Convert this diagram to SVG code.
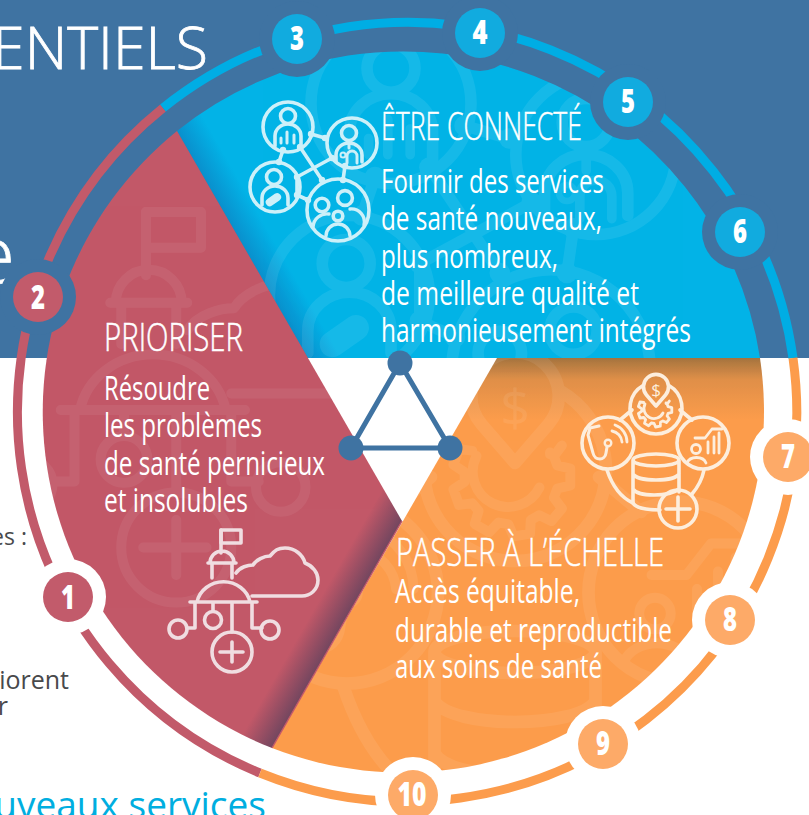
<svg xmlns="http://www.w3.org/2000/svg" xmlns:xlink="http://www.w3.org/1999/xlink" width="809" height="815" viewBox="0 0 809 815">
<style>
text{font-family:"Open Sans","Noto Sans","Liberation Sans",sans-serif}
.w{fill:#fff;font-size:33px}
.t{fill:#fff;font-size:39px;font-weight:300;stroke:#fff;stroke-width:.5px}
.b{fill:#fff;font-weight:300;stroke:#fff;stroke-width:.8px;text-anchor:end}
.n{fill:#fff;font-size:33px;font-weight:800;text-anchor:middle}
.g{fill:#48494b;text-anchor:end}
.ic{fill:none;stroke-width:3.6;stroke-linecap:round;stroke-linejoin:round}
.ring{fill:none;stroke-width:9}
.wm{stroke:#fff;color:#fff}
</style>
<defs>
<linearGradient id="gr" gradientUnits="userSpaceOnUse" x1="337" y1="634" x2="309" y2="618"><stop offset="0" stop-color="#73465f"/><stop offset="1" stop-color="#c25868"/></linearGradient>
<linearGradient id="gb" gradientUnits="userSpaceOnUse" x1="242" y1="245" x2="268" y2="230"><stop offset="0" stop-color="#0a8fcc"/><stop offset="1" stop-color="#02b3e7"/></linearGradient>
<linearGradient id="go" gradientUnits="userSpaceOnUse" x1="0" y1="358" x2="0" y2="420"><stop offset="0" stop-color="#a5743f"/><stop offset=".35" stop-color="#e09049"/><stop offset="1" stop-color="#fc9c4c"/></linearGradient>
<clipPath id="cb"><path d="M177,131A361,361 0 0 1 760,358L308,358Z"/></clipPath>
<clipPath id="cr"><path d="M177,131L402,521L272,748A361,361 0 0 1 177,131Z"/></clipPath>
<clipPath id="co"><path d="M497,358L760,358A361,361 0 0 1 272,748Z"/></clipPath>
<g id="icb">
<circle cx="288" cy="127" r="25"/><circle cx="352" cy="143" r="25"/><circle cx="275" cy="187" r="25"/><circle cx="338" cy="210" r="31"/>
<path d="M311,134L325,138M283,150L279,162M300,147L322,180M332,158L297,177V195L308,200M345,166L343,180"/>
<g fill="currentColor" stroke="none"><circle cx="311" cy="134" r="3.2"/><circle cx="325" cy="138" r="3.2"/><circle cx="283" cy="150" r="3.2"/><circle cx="279" cy="162" r="3.2"/><circle cx="300" cy="147" r="3.2"/><circle cx="322" cy="180" r="3.2"/><circle cx="332" cy="158" r="3.2"/><circle cx="297" cy="177" r="3.2"/><circle cx="297" cy="195" r="3.2"/><circle cx="308" cy="200" r="3.2"/><circle cx="345" cy="166" r="3.2"/><circle cx="343" cy="180" r="3.2"/></g>
<circle cx="288" cy="116" r="7.5"/><path d="M275,146V136a13,12 0 0 1 26,0V146"/><path d="M281,143V138M287,143V132M294,143V135" stroke-width="3"/>
<circle cx="349" cy="133" r="7.5"/><path d="M336,162V155a13,12 0 0 1 26,0V162"/><path d="M349,143V148M347,163V156a5,5 0 0 1 10,0V163" stroke-width="3"/><circle cx="343" cy="155" r="2.5" stroke-width="2"/>
<circle cx="274" cy="177" r="7.5"/><path d="M262,205V198a13,12 0 0 1 26,0V205"/><rect x="265" y="196" width="17" height="8" rx="4" fill="currentColor" stroke="none" transform="rotate(-35 273 200)"/>
<circle cx="322" cy="205" r="6.8"/><circle cx="345" cy="198" r="7.4"/><circle cx="338" cy="216" r="4.8"/>
<path d="M313,227a14,14 0 0 1 16,-13M350,209a13,13 0 0 1 14,16M326,236a12,12 0 0 1 24,0" stroke-width="3.4"/>
</g>
<g id="icr">
<rect x="221" y="530" width="20" height="13"/><path d="M221,530V553M210,563a12,12 0 0 1 24,0M208,563H236M212,563V578M232,563V578"/>
<path d="M197,602a27,25 0 0 1 53,0M190,602H257M195,602V628H187M213,602V611M232,602V632M252,602V628H262"/>
<circle cx="178" cy="629" r="9"/><circle cx="213" cy="620" r="8.5"/><circle cx="270" cy="630" r="9"/><circle cx="232" cy="652" r="20"/><path d="M220,652H243M232,642V662"/>
<path d="M236,573C240,567 248,565 253,565C256,560 264,556 270,556C275,550 278,548 285,548C295,548 303,555 305,563C313,566 318,573 318,580C318,590 310,596 302,596H252"/>
</g>
<g id="ico">
<path d="M643,385.5A26,26 0 1 0 669,385.5"/>
<path d="M656,406L646.5,395A12.5,12.5 0 1 1 665.5,395Z"/>
<path d="M643.8,402.5L640,402L638.4,406.5L641.6,408.6V411.4L638.4,413.5L640,418L643.8,417.5L645.6,419.7L644.5,423.4L648.6,425.8L651.3,423L654.1,423.5L655.6,427L660.3,426.2L660.5,422.3L662.9,420.9L666.4,422.6L669.4,419L667.1,415.9L668.1,413.3L671.8,412.4V407.6L668.1,406.7L667.1,404.1L669.4,401" stroke-width="2.8"/>
<path d="M645,404A10,10 0 0 0 663,413M666,403V403.5" stroke-width="2.8"/>
<circle cx="608" cy="443" r="26"/><circle cx="703" cy="443" r="26"/><circle cx="678" cy="509" r="19"/>
<path d="M666,509H690M678,497V521"/>
<path d="M620,420L632,410M680,410L692,420M607,470C613,488 622,498 633,503M704,470C702,480 698,487 692,494"/>
<path d="M633,460a23,6 0 0 1 46,0a23,6 0 0 1 -46,0V503C636,508 648,510 660,510M633,474c5,8 41,8 46,0M633,489c5,8 36,8 46,0M679,460V492"/>
<path d="M599,426L590,428L588,435L593,453C595,461 605,461 606,453L607,447" stroke-width="3"/><circle cx="608" cy="443" r="3.3" stroke-width="2.4"/><path d="M612,431a12,12 0 0 1 10,11M615,425a18,18 0 0 1 12,17" stroke-width="2.8"/>
<path d="M695,438H705L712,429H722M708,453V442M714,453V437M719,453V433" stroke-width="2.8"/><circle cx="696" cy="449" r="4.5" stroke-width="2.8"/><path d="M687,463a10,8 0 0 1 19,0" stroke-width="2.8"/>
</g>
</defs>
<rect width="809" height="358" fill="#3f73a2"/>
<rect y="358" width="809" height="457" fill="#fff"/>
<g id="background-text">
<text class="b" x="208" y="69" font-size="59">ENTIELS</text>
<text class="b" x="15" y="283" font-size="80">e</text>
<text class="g" x="27" y="545" font-size="23">es :</text>
<text class="g" x="69" y="689" font-size="25">iorent</text>
<text class="g" x="8" y="715" font-size="25">r</text>
<text x="266" y="818" fill="#00aee0" font-size="37" text-anchor="end">uveaux services</text>
</g>
<g id="ring">
<path class="ring" stroke="#c25a6a" d="M163,108A390,390 0 0 0 260,773"/>
<path class="ring" stroke="#00ade4" d="M163,108A390,390 0 0 1 793,358"/>
<path class="ring" stroke="#fc9c4c" d="M793,358A390,390 0 0 1 260,773"/>
</g>
<g id="segment-etre-connecte">
<path d="M177,131A361,361 0 0 1 760,358L308,358Z" fill="url(#gb)"/>
<g clip-path="url(#cb)"><use xlink:href="#icb" href="#icb" class="ic wm" opacity=".08" transform="translate(-530.6,-303) scale(3.2)"/></g>
<use xlink:href="#icb" href="#icb" class="ic" style="stroke:#cdf0f9;color:#cdf0f9"/>
<text class="t" x="381" y="140" textLength="201" lengthAdjust="spacingAndGlyphs">ÊTRE CONNECTÉ</text>
<text class="w" x="381" y="193" textLength="223" lengthAdjust="spacingAndGlyphs">Fournir des services</text>
<text class="w" x="381" y="230" textLength="221" lengthAdjust="spacingAndGlyphs">de santé nouveaux,</text>
<text class="w" x="381" y="268" textLength="177" lengthAdjust="spacingAndGlyphs">plus nombreux,</text>
<text class="w" x="381" y="305" textLength="258" lengthAdjust="spacingAndGlyphs">de meilleure qualité et</text>
<text class="w" x="381" y="342" textLength="310" lengthAdjust="spacingAndGlyphs">harmonieusement intégrés</text>
</g>
<g id="segment-prioriser">
<path d="M177,131L402,521L272,748A361,361 0 0 1 177,131Z" fill="url(#gr)"/>
<g clip-path="url(#cr)"><use xlink:href="#icr" href="#icr" class="ic wm" opacity=".06" transform="translate(-461.75,-1245.5) scale(2.75)"/></g>
<use xlink:href="#icr" href="#icr" class="ic" style="stroke:#f0dde1"/>
<text class="t" x="104" y="351" textLength="139" lengthAdjust="spacingAndGlyphs">PRIORISER</text>
<text class="w" x="104" y="400" textLength="106" lengthAdjust="spacingAndGlyphs">Résoudre</text>
<text class="w" x="104" y="437" textLength="158" lengthAdjust="spacingAndGlyphs">les problèmes</text>
<text class="w" x="104" y="475" textLength="221" lengthAdjust="spacingAndGlyphs">de santé pernicieux</text>
<text class="w" x="104" y="512" textLength="144" lengthAdjust="spacingAndGlyphs">et insolubles</text>
</g>
<g id="segment-passer">
<path d="M497,358L760,358A361,361 0 0 1 272,748Z" fill="url(#go)"/>
<g clip-path="url(#co)"><use xlink:href="#ico" href="#ico" class="ic wm" opacity=".07" transform="translate(-1781,-958) scale(3.5)"/><text x="515" y="426" font-size="52" fill="#fff" opacity=".07" text-anchor="middle">$</text></g>
<use xlink:href="#ico" href="#ico" class="ic" style="stroke:#fdeedd"/>
<text x="656" y="396" font-size="17" fill="#fdeedd" text-anchor="middle">$</text>
<path d="M402,521L272,748" stroke="#c25868" stroke-width="1.5" fill="none"/>
<text class="t" x="396" y="566" textLength="268" lengthAdjust="spacingAndGlyphs">PASSER À L’ÉCHELLE</text>
<text class="w" x="395" y="603" textLength="185" lengthAdjust="spacingAndGlyphs">Accès équitable,</text>
<text class="w" x="395" y="642" textLength="277" lengthAdjust="spacingAndGlyphs">durable et reproductible</text>
<text class="w" x="395" y="678" textLength="207" lengthAdjust="spacingAndGlyphs">aux soins de santé</text>
</g>
<g id="connectors" fill="none" stroke="#3f73a2" stroke-width="5">
<path d="M400,363L351,448H450Z"/>
</g>
<g id="triangle-nodes" fill="#3f73a2">
<circle cx="400" cy="363" r="12.5"/><circle cx="351" cy="448" r="12.5"/><circle cx="450" cy="448" r="12.5"/>
</g>
<g id="n1"><circle cx="68" cy="597" r="38" fill="#fff"/><circle cx="68" cy="597" r="25" fill="#c25b6b"/><text class="n" x="68" y="609" textLength="14" lengthAdjust="spacingAndGlyphs">1</text></g>
<g id="n2"><circle cx="38" cy="297" r="38" fill="#3f73a2"/><circle cx="38" cy="297" r="25" fill="#c25b6b"/><text class="n" x="38" y="309" textLength="14" lengthAdjust="spacingAndGlyphs">2</text></g>
<g id="n3"><circle cx="297" cy="39" r="38" fill="#3f73a2"/><circle cx="297" cy="39" r="25" fill="#11abdf"/><text class="n" x="297" y="50" textLength="14" lengthAdjust="spacingAndGlyphs">3</text></g>
<g id="n4"><circle cx="480" cy="33" r="38" fill="#3f73a2"/><circle cx="480" cy="33" r="25" fill="#11abdf"/><text class="n" x="480" y="44" textLength="15" lengthAdjust="spacingAndGlyphs">4</text></g>
<g id="n5"><circle cx="628" cy="102" r="38" fill="#3f73a2"/><circle cx="628" cy="102" r="25" fill="#11abdf"/><text class="n" x="628" y="113" textLength="14" lengthAdjust="spacingAndGlyphs">5</text></g>
<g id="n6"><circle cx="740" cy="232" r="38" fill="#3f73a2"/><circle cx="740" cy="232" r="25" fill="#11abdf"/><text class="n" x="740" y="243" textLength="14" lengthAdjust="spacingAndGlyphs">6</text></g>
<g id="n7"><circle cx="788" cy="457" r="38" fill="#fff"/><circle cx="788" cy="457" r="25" fill="#fdaa68"/><text class="n" x="788" y="468" textLength="14" lengthAdjust="spacingAndGlyphs">7</text></g>
<g id="n8"><circle cx="730" cy="620" r="38" fill="#fff"/><circle cx="730" cy="620" r="25" fill="#fdaa68"/><text class="n" x="730" y="631" textLength="14" lengthAdjust="spacingAndGlyphs">8</text></g>
<g id="n9"><circle cx="603" cy="744" r="38" fill="#fff"/><circle cx="603" cy="744" r="25" fill="#fdaa68"/><text class="n" x="603" y="755" textLength="14" lengthAdjust="spacingAndGlyphs">9</text></g>
<g id="n10"><circle cx="413" cy="795" r="38" fill="#fff"/><circle cx="413" cy="795" r="25" fill="#fdaa68"/><text class="n" x="412" y="806" textLength="29" lengthAdjust="spacingAndGlyphs">10</text></g>
</svg>
